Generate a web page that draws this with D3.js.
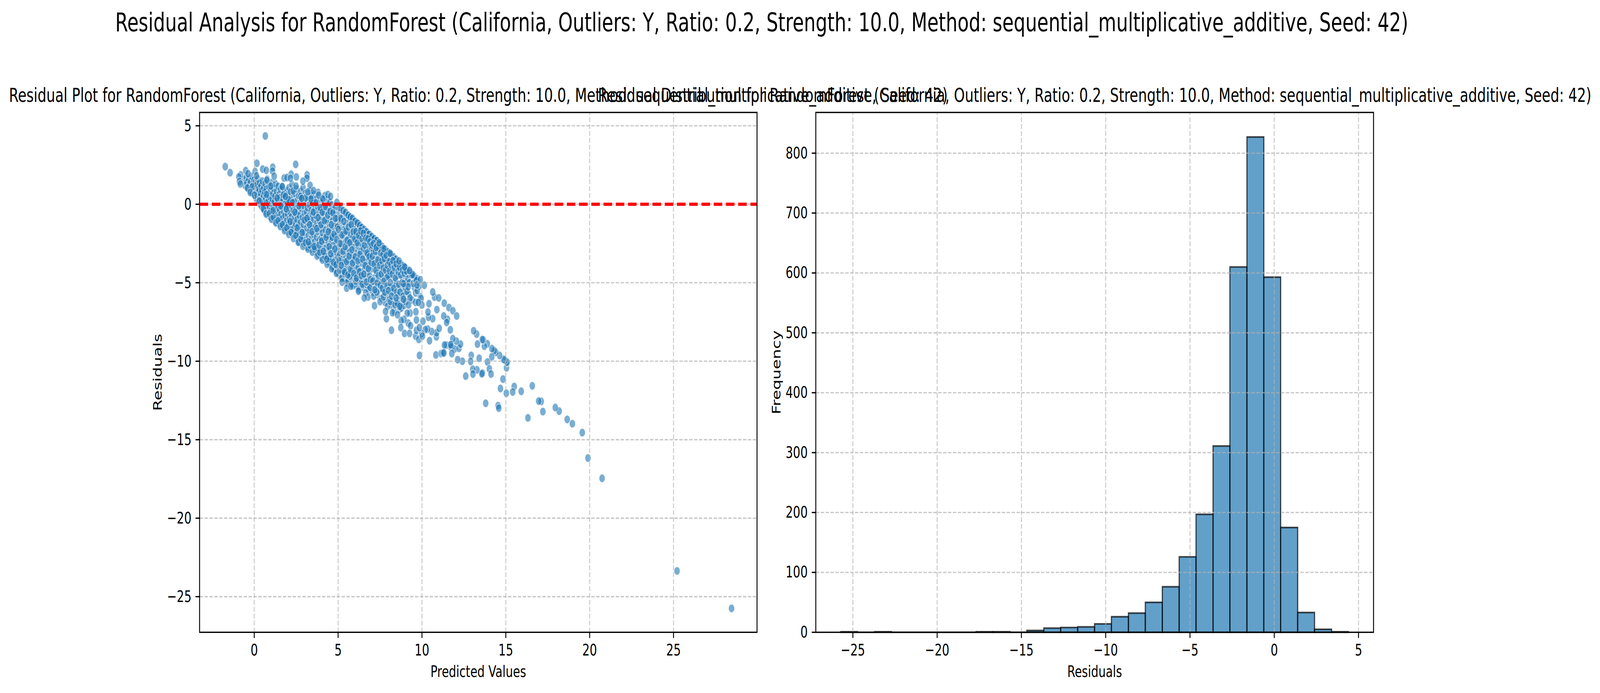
<!DOCTYPE html>
<html>
<head>
<meta charset="utf-8">
<script src="https://d3js.org/d3.v7.min.js"></script>
<style>
html, body { margin: 0; height: 100%; overflow: hidden; background: #fff; }
text { font-family: "DejaVu Sans", sans-serif; fill: #000; }
</style>
</head>
<body>
<div id="chart"></div>
<script>
var suptitle = "Residual Analysis for RandomForest (California, Outliers: Y, Ratio: 0.2, Strength: 10.0, Method: sequential_multiplicative_additive, Seed: 42)";
var scatterTitle = "Residual Plot for RandomForest (California, Outliers: Y, Ratio: 0.2, Strength: 10.0, Method: sequential_multiplicative_additive, Seed: 42)";
var histTitle = "Residual Distribution for RandomForest (California, Outliers: Y, Ratio: 0.2, Strength: 10.0, Method: sequential_multiplicative_additive, Seed: 42)";

var scatterXTicks = [0, 5, 10, 15, 20, 25];
var scatterYTicks = [5, 0, -5, -10, -15, -20, -25];
var histXTicks = [-25, -20, -15, -10, -5, 0, 5];
var histYTicks = [0, 100, 200, 300, 400, 500, 600, 700, 800];

// histogram, 30 bins
var binEdges = [-25.72,-24.72,-23.71,-22.71,-21.70,-20.70,-19.70,-18.69,-17.69,-16.68,-15.68,-14.68,-13.67,-12.67,-11.66,-10.66,-9.66,-8.65,-7.65,-6.64,-5.64,-4.64,-3.63,-2.63,-1.62,-0.62,0.38,1.39,2.39,3.40,4.40];
var binCounts = [1,0,1,0,0,0,0,0,1,1,0,3,7,8,9,14,26,32,50,76,126,197,311,610,827,593,175,33,5,1];

// [predicted, residual], isolated points first
var tailPoints = [[28.46,-25.75],[25.21,-23.36],[20.74,-17.46],[19.9,-16.17],[19.56,-14.55],[18.97,-13.98],[18.66,-13.71],[18.18,-13.18],[17.95,-12.95],[17.21,-13.21],[17.11,-12.56],[16.96,-12.54],[16.58,-11.57],[16.32,-13.61],[15.92,-11.92],[15.5,-11.61],[15.41,-11.96],[15.03,-12.04],[14.68,-11.74],[14.83,-11.14],[15.04,-10.42],[15.09,-10.09],[15.06,-10.05],[14.95,-9.94],[14.87,-9.88],[14.63,-9.63],[14.4,-9.43],[14.31,-9.33],[14.17,-9.2],[14.16,-9.72],[13.9,-8.89],[13.72,-9.04],[13.66,-8.64],[13.6,-8.62],[13.31,-8.91],[13.26,-8.27],[13.08,-8.06],[13.91,-10.05],[14.02,-10.49],[14.12,-10.82],[13.61,-10.75],[13.57,-10.8],[13.28,-10.55],[13.03,-10.51],[13.04,-10.82],[12.61,-10.95],[13.41,-9.81],[12.94,-9.63],[12.9,-10.01],[12.41,-10.0],[12.13,-9.9],[13.8,-12.68],[14.54,-12.83],[14.58,-12.99],[11.7,-8.93],[11.45,-8.97],[11.34,-8.97],[11.73,-9.1],[11.95,-9.22],[11.78,-9.51],[12.21,-9.18],[12.3,-8.91],[12.05,-8.72],[11.84,-8.56],[11.72,-8.95],[11.31,-9.47]];

var midPoints = [[8.18,-8.02],[9.85,-9.63],[10.83,-9.6],[11.14,-9.51],[11.25,-9.47],[10.45,-8.69],[10.86,-8.44],[10.87,-8.19],[11.03,-7.9],[10.58,-8.11],[10.34,-7.95],[10.2,-7.99],[11.69,-8.0],[11.52,-7.33],[11.3,-7.12],[11.47,-7.53],[10.89,-6.71],[10.64,-7.29],[10.39,-7.2],[10.42,-6.34],[10.36,-6.87],[10.75,-5.92],[11,-5.97],[10.64,-5.59],[10.14,-5.16],[9.9,-4.81],[11.33,-6.3],[11.61,-6.58],[11.85,-6.79],[12.07,-7.12],[9.95,-6.01],[9.62,-6.25],[10,-6.42],[9.64,-6.85],[9.29,-6.93],[9.12,-6.94],[9.67,-7.37],[10.06,-7.45],[9.18,-7.57],[9.32,-7.74],[8.93,-7.33],[8.76,-7.41],[8.74,-7.86],[8.96,-8.23],[9.26,-8.23],[9.62,-8.4],[9.81,-8.61],[9.67,-8.03],[9.98,-8.23],[10.03,-8.4],[9.84,-7.86],[7.88,-7.29],[7.83,-6.83],[8.24,-6.91],[8.54,-7.04],[7.17,-6.46],[6.78,-5.91],[6.56,-5.97],[6.21,-5.54],[5.51,-5.35],[5.24,-4.96],[5.76,-5.22],[9.45,-4.48],[9.26,-4.23],[8.96,-3.99],[8.63,-3.61],[8.1,-3.12],[7.72,-2.83],[7.27,-2.75],[7.44,-2.46],[8.68,-6.5],[8.9,-6.05],[8.46,-5.97],[9.29,-5.97],[9.2,-6.42],[9.78,-6.25],[9.7,-5.14],[9.18,-5.26],[8.9,-5.06]];

var topPoints = [[0.66,4.35],[-1.73,2.40],[-1.44,2.01],[0.16,2.61],[2.47,2.54],[1.10,2.36],[0.5,2.24],[0.72,2.16],[1.09,2.11],[-0.51,2.14],[-0.37,1.95],[-0.81,1.87],[-0.92,1.74],[0.05,2.09],[0.13,1.82],[1.19,1.78],[0.75,1.53],[2.2,1.91],[2.51,1.74],[3.15,1.87],[3.14,1.66],[2.9,1.47],[1.78,1.67],[1.95,1.7],[2.16,1.66],[-0.88,1.45],[-0.83,1.29],[-0.41,1.04],[-0.12,1.12],[0.98,1.16],[1.67,1.12],[3.33,1.2],[2.32,0.85],[3.54,0.87],[3.19,0.79],[2.49,1.16],[1.86,0.5],[4.39,0.62],[4.55,0.5],[3.84,0.58],[0.72,0.62],[-0.24,0.75],[0.01,0.58],[0.3,0.21],[3.38,0.33],[2.83,0.37],[4.09,0.33],[4.93,0.12]];

// dense band, estimated in strips of predicted value
var bandA = [[-0.62,1.55],[-0.55,1.2],[-0.48,1.72],[-0.44,1.38],[-0.38,1.02],[-0.33,1.6],[-0.3,1.25],[-0.26,0.88],[-0.22,1.44],[-0.18,1.05],[-0.15,1.78],[-0.11,0.72],[-0.08,1.3],[-0.05,0.95],[-0.02,1.55],[0.02,0.62],[0.03,1.18],[0.05,0.85],[0.07,1.42],[0.1,0.42],[0.12,1.02],[0.14,0.68],[0.17,1.25],[0.19,0.28],[0.21,1.62],[0.24,0.78],[0.26,0.12],[0.28,0.98],[0.31,1.35],[0.33,0.45],[0.36,0.02],[0.38,0.7],[0.4,1.15],[0.42,-0.12],[0.44,0.3],[0.46,0.88],[0.48,1.48],[0.52,-0.22],[0.54,0.55],[0.56,1.05],[0.58,0.18],[0.6,-0.4],[0.62,0.76],[0.64,1.32],[0.66,-0.08],[0.68,0.4],[0.71,0.95],[0.73,-0.55],[0.75,0.12],[0.77,1.6],[0.79,-0.3],[0.81,0.62],[0.83,-0.68],[0.85,0.25],[0.87,1.12],[0.9,-0.15],[0.92,0.48],[0.94,-0.78],[0.96,0.85],[0.98,-0.42]];

var bandB = [[1.01,0.05],[1.03,1.38],[1.05,-0.62],[1.07,0.34],[1.09,-0.9],[1.11,0.7],[1.13,-0.25],[1.15,1.02],[1.17,-0.75],[1.19,0.15],[1.21,-1.05],[1.23,0.52],[1.25,-0.45],[1.27,1.3],[1.29,-0.95],[1.31,-0.08],[1.33,0.82],[1.35,-1.15],[1.37,-0.58],[1.39,0.28],[1.41,-0.22],[1.43,1.15],[1.45,-0.82],[1.47,0.6],[1.49,-1.22],[1.51,-0.35],[1.53,0.42],[1.55,-1.0],[1.57,0.95],[1.59,-0.65],[1.61,0.1],[1.63,-1.35],[1.65,-0.15],[1.67,1.12],[1.69,-0.88],[1.71,0.35],[1.73,-1.45],[1.75,-0.48],[1.77,0.72],[1.79,-1.2],[1.81,-0.02],[1.83,-0.72],[1.85,0.5],[1.87,-1.58],[1.89,-0.32],[1.91,0.85],[1.93,-1.05],[1.95,0.18],[1.97,-0.6],[1.99,-1.72]];

var bandC = [[2.01,0.62],[2.03,-1.3],[2.05,-0.22],[2.07,1.05],[2.09,-0.95],[2.11,0.28],[2.13,-1.68],[2.15,-0.52],[2.17,0.8],[2.19,-1.42],[2.21,-0.08],[2.23,-0.78],[2.25,1.25],[2.27,-1.85],[2.29,-1.12],[2.31,0.42],[2.33,-0.38],[2.35,-1.55],[2.37,0.12],[2.39,-0.88],[2.41,0.7],[2.43,-2.02],[2.45,-1.25],[2.47,-0.15],[2.49,-0.62],[2.51,0.98],[2.53,-1.75],[2.55,-0.98],[2.57,0.25],[2.59,-2.15],[2.61,-0.42],[2.63,-1.38],[2.65,0.55],[2.67,-2.4],[2.69,-0.72],[2.71,-1.9],[2.73,0.05],[2.75,-1.15],[2.77,0.82],[2.79,-2.28],[2.81,-0.28],[2.83,-1.6],[2.85,0.38],[2.87,-0.85],[2.89,-2.05],[2.91,1.05],[2.93,-1.28],[2.95,-0.1],[2.97,-2.5],[2.99,-0.58]];

var bandD = [[3.01,-1.82],[3.03,0.68],[3.05,-1.02],[3.07,-2.3],[3.09,0.18],[3.11,-0.5],[3.13,-1.5],[3.15,-2.72],[3.17,-0.22],[3.19,-1.15],[3.21,0.48],[3.23,-2.0],[3.25,-0.78],[3.27,-2.55],[3.29,-0.05],[3.31,-1.68],[3.33,0.85],[3.35,-1.0],[3.37,-2.85],[3.39,-0.4],[3.41,-2.2],[3.43,0.28],[3.45,-1.35],[3.47,-0.68],[3.49,-2.65],[3.51,0.05],[3.53,-1.92],[3.55,-0.95],[3.57,0.62],[3.59,-2.4],[3.61,-0.3],[3.63,-1.48],[3.65,-3.0],[3.67,-0.72],[3.69,0.32],[3.71,-2.1],[3.73,-1.2],[3.75,-2.78],[3.77,-0.18],[3.79,-1.72],[3.81,0.75],[3.83,-3.2],[3.85,-0.55],[3.87,-2.32],[3.89,-1.05],[3.91,0.15],[3.93,-2.95],[3.95,-1.55],[3.97,-0.38],[3.99,-2.15]];

var bandE = [[4.01,-3.4],[4.03,-0.85],[4.05,0.4],[4.07,-1.82],[4.09,-2.62],[4.11,-0.12],[4.13,-1.28],[4.15,-3.15],[4.17,-0.62],[4.19,-2.25],[4.21,0.55],[4.23,-1.65],[4.25,-3.58],[4.27,-0.98],[4.29,-2.8],[4.31,-0.3],[4.33,-1.95],[4.35,0.3],[4.37,-3.3],[4.39,-1.12],[4.41,-2.42],[4.43,-0.5],[4.45,-3.7],[4.47,-1.5],[4.49,-2.05],[4.51,0.12],[4.53,-2.9],[4.55,-0.78],[4.57,-3.45],[4.59,-1.72],[4.61,-0.05],[4.63,-2.3],[4.65,-3.95],[4.67,-1.05],[4.69,-2.65],[4.71,-0.35],[4.73,-3.25],[4.75,-1.42],[4.77,-4.15],[4.79,-2.05],[4.81,-0.62],[4.83,-3.6],[4.85,-0.15],[4.87,-2.48],[4.89,-1.2],[4.91,-3.05],[4.93,-4.3],[4.95,-0.9],[4.97,-1.88],[4.99,-3.4]];

var bandF = [[5.01,-0.2],[5.03,-2.75],[5.05,-4.45],[5.07,-1.3],[5.09,-3.2],[5.11,-0.55],[5.13,-2.15],[5.15,-3.85],[5.17,-1.0],[5.19,-4.6],[5.21,-2.55],[5.23,-0.38],[5.25,-3.5],[5.27,-1.65],[5.29,-4.2],[5.31,-0.75],[5.33,-2.95],[5.35,-1.95],[5.37,-3.7],[5.39,-0.58],[5.41,-4.75],[5.43,-1.38],[5.45,-2.35],[5.47,-3.3],[5.49,-0.85],[5.51,-4.05],[5.53,-1.75],[5.55,-2.8],[5.57,-0.68],[5.59,-3.55],[5.61,-4.9],[5.63,-1.15],[5.65,-2.2],[5.67,-4.4],[5.69,-3.05],[5.71,-0.8],[5.73,-1.9],[5.75,-3.8],[5.77,-2.55],[5.79,-5.05],[5.81,-1.25],[5.83,-4.2],[5.85,-3.3],[5.87,-0.95],[5.89,-2.05],[5.91,-4.65],[5.93,-1.6],[5.95,-3.55],[5.97,-2.75],[5.99,-1.05]];

var bandG = [[6.01,-5.1],[6.03,-1.45],[6.05,-3.95],[6.07,-2.3],[6.09,-4.5],[6.11,-1.15],[6.13,-3.1],[6.15,-5.25],[6.17,-1.85],[6.19,-4.05],[6.21,-2.65],[6.23,-1.25],[6.25,-3.5],[6.27,-4.85],[6.29,-2.1],[6.31,-1.4],[6.33,-4.3],[6.35,-3.0],[6.37,-5.0],[6.39,-1.7],[6.41,-2.5],[6.43,-3.75],[6.45,-1.5],[6.47,-4.55],[6.49,-2.85],[6.52,-5.3],[6.54,-1.68],[6.56,-3.35],[6.58,-4.1],[6.6,-2.2],[6.62,-1.75],[6.64,-4.75],[6.66,-2.95],[6.68,-3.7],[6.7,-1.82],[6.72,-5.15],[6.74,-2.45],[6.76,-4.3],[6.78,-3.2],[6.8,-1.9],[6.82,-5.45],[6.84,-2.7],[6.86,-3.9],[6.88,-4.55],[6.9,-2.1],[6.92,-3.45],[6.94,-1.98],[6.96,-5.0],[6.98,-2.9]];

var bandH = [[7.02,-2.1],[7.05,-4.1],[7.08,-5.6],[7.1,-3.0],[7.13,-2.2],[7.16,-4.7],[7.18,-3.55],[7.21,-5.2],[7.23,-2.4],[7.26,-3.9],[7.28,-2.3],[7.31,-4.4],[7.34,-5.75],[7.36,-3.2],[7.39,-2.55],[7.41,-4.95],[7.44,-3.65],[7.46,-2.5],[7.49,-5.4],[7.52,-4.2],[7.55,-2.75],[7.58,-3.35],[7.6,-6.0],[7.63,-4.75],[7.66,-2.8],[7.68,-3.8],[7.71,-5.5],[7.74,-3.05],[7.77,-4.4],[7.8,-6.25],[7.82,-3.0],[7.85,-5.0],[7.88,-3.6],[7.9,-4.65],[7.93,-3.2],[7.96,-5.75],[7.98,-4.1],[8.02,-3.15],[8.05,-6.1],[8.08,-4.6],[8.1,-3.5],[8.14,-5.3],[8.18,-3.25],[8.21,-6.45],[8.25,-4.2],[8.28,-5.6],[8.32,-3.5],[8.36,-4.9],[8.4,-3.55],[8.43,-6.2],[8.47,-5.15],[8.5,-3.9],[8.54,-4.55],[8.58,-3.75],[8.62,-5.85],[8.66,-6.7],[8.7,-4.1],[8.74,-5.3],[8.78,-3.9],[8.82,-6.25],[8.85,-4.7],[8.89,-4.15],[8.93,-5.6],[8.97,-4.0],[9.05,-5.0],[9.12,-4.4],[9.2,-5.7],[9.3,-4.35],[9.4,-6.1],[9.5,-4.6],[9.55,-5.3],[9.62,-5.65],[9.75,-4.9],[9.85,-5.2],[9.9,-5.9]];

var upperEdge = [[5.1,-0.22],[5.3,-0.4],[5.45,-0.52],[5.6,-0.7],[5.72,-0.82],[5.85,-0.9],[6.0,-1.1],[6.15,-1.2],[6.28,-1.36],[6.4,-1.48],[6.55,-1.6],[6.7,-1.75],[6.85,-1.92],[7.0,-2.06],[7.15,-2.2],[7.3,-2.32],[7.5,-2.55],[7.62,-2.68],[7.8,-2.85],[7.95,-3.02],[8.15,-3.2],[8.3,-3.35],[8.45,-3.5],[8.75,-3.8],[8.85,-3.92],[9.0,-4.05],[9.15,-4.18],[9.35,-4.38],[9.55,-4.6],[9.7,-4.75]];

var lowerEdge = [[0.55,-0.3],[0.7,-0.62],[0.9,-0.6],[1.02,-0.95],[1.14,-0.82],[1.28,-1.18],[1.42,-1.05],[1.55,-1.42],[1.68,-1.3],[1.8,-1.68],[1.94,-1.5],[2.06,-1.92],[2.2,-1.8],[2.34,-2.18],[2.48,-1.98],[2.62,-2.42],[2.78,-2.2],[2.9,-2.68],[3.05,-2.45],[3.2,-2.85],[3.32,-2.6],[3.46,-3.05],[3.6,-2.85],[3.74,-3.3],[3.9,-3.05],[4.06,-3.55],[4.2,-3.3],[4.34,-3.82],[4.5,-3.5],[4.62,-4.1],[4.8,-3.8],[4.9,-4.4],[5.08,-4.2],[5.22,-4.72],[5.38,-4.4],[5.52,-5.0],[5.7,-4.6],[5.88,-5.2],[6.05,-4.9],[6.25,-5.45],[6.45,-5.1],[6.65,-5.65],[6.9,-5.3],[7.12,-5.85],[7.3,-5.6],[7.5,-6.2],[7.7,-5.9],[7.95,-6.5],[8.12,-6.2],[8.35,-6.85],[8.55,-6.4]];

var innerLow = [[1.12,-0.4],[1.36,0.4],[1.58,-0.1],[1.74,0.6],[1.92,-0.3],[2.04,0.3],[2.14,-1.1],[2.28,0.1],[2.42,-0.5],[2.56,-1.5],[2.66,-0.1],[2.76,0.5],[2.86,-1.8],[2.98,-1.0],[3.06,0.4],[3.14,-0.9],[3.22,-2.4],[3.3,-1.3],[3.4,0.55],[3.44,-1.75],[3.52,-0.5],[3.58,-2.7],[3.66,0.1],[3.72,-1.55],[3.8,-0.85],[3.86,-2.6],[3.92,-0.2],[3.98,-1.3],[4.02,-2.35],[4.06,-0.5],[4.12,-3.0],[4.18,-1.05],[4.24,-0.15],[4.28,-2.1],[4.32,-3.5],[4.38,-0.7],[4.42,-1.75],[4.46,-2.7],[4.52,-0.45],[4.56,-3.15],[4.6,-1.3],[4.64,-2.1],[4.68,-0.55],[4.72,-3.7],[4.76,-1.9],[4.8,-2.85],[4.84,-0.9],[4.88,-3.85],[4.92,-2.25],[4.96,-1.45]];

var innerHigh = [[5.02,-1.6],[5.06,-3.6],[5.12,-2.5],[5.16,-0.9],[5.2,-3.9],[5.24,-1.95],[5.28,-3.0],[5.34,-1.1],[5.38,-4.3],[5.42,-2.7],[5.46,-1.7],[5.5,-3.65],[5.54,-2.3],[5.58,-4.5],[5.62,-1.45],[5.66,-3.3],[5.7,-2.45],[5.74,-4.15],[5.78,-1.3],[5.82,-2.9],[5.86,-3.75],[5.9,-1.75],[5.94,-4.4],[5.98,-2.2],[6.02,-3.35],[6.06,-1.75],[6.1,-4.7],[6.14,-2.45],[6.18,-3.6],[6.22,-2.0],[6.26,-4.3],[6.3,-3.2],[6.34,-1.7],[6.38,-4.55],[6.42,-2.2],[6.46,-3.5],[6.5,-1.85],[6.53,-4.45],[6.57,-2.6],[6.61,-3.9],[6.65,-2.15],[6.69,-4.95],[6.73,-3.1],[6.77,-2.2],[6.81,-4.1],[6.85,-3.35],[6.89,-2.4],[6.93,-4.8],[6.97,-3.7],[7.01,-2.6],[7.04,-3.3],[7.07,-4.9],[7.11,-2.5],[7.15,-3.8],[7.19,-5.45],[7.22,-3.0],[7.25,-4.2],[7.29,-2.65],[7.33,-5.0],[7.37,-3.55],[7.4,-4.55],[7.43,-2.8],[7.47,-3.9],[7.51,-5.15],[7.54,-3.1],[7.57,-4.45],[7.61,-3.6],[7.64,-5.35],[7.67,-3.2],[7.7,-4.05],[7.73,-4.9],[7.76,-3.45],[7.79,-5.6],[7.83,-4.2],[7.87,-3.25],[7.91,-5.2],[7.94,-3.9],[7.97,-4.6],[8.01,-5.5],[8.04,-3.65],[8.07,-4.25],[8.11,-5.0],[8.15,-3.85],[8.19,-5.85],[8.23,-4.45],[8.27,-3.6],[8.31,-5.35],[8.35,-4.05],[8.39,-6.4],[8.42,-4.7],[8.46,-3.8],[8.49,-5.6],[8.53,-6.3],[8.57,-4.3],[8.61,-5.1],[8.65,-4.0],[8.69,-5.6],[8.73,-4.5],[8.77,-6.6],[8.81,-5.0],[8.84,-4.2],[8.88,-5.85],[8.92,-6.45],[8.95,-4.4],[8.99,-5.25],[9.03,-6.2],[9.07,-4.25],[9.11,-5.55],[9.16,-4.75],[9.25,-5.0],[9.38,-4.5],[9.48,-5.05],[9.66,-4.85],[9.72,-5.5]];

var scatterPoints = bandA.concat(bandB, bandC, bandD, bandE, bandF, bandG, bandH, upperEdge, lowerEdge, innerLow, innerHigh, midPoints, topPoints, tailPoints);

var svgWidth = 5772;
var svgHeight = 1775;
var axTop = 288;
var axBottom = 1619.5;
var blue = "#1f77b4";
var lineWidth = 3.33;
var tickLabelSize = 41.67;

// the browser window can come out narrower than asked for, so the drawing
// keeps its own coordinates and is stretched onto whatever window there is
var svg = d3.select("#chart").append("svg")
    .attr("viewBox", "0 0 " + svgWidth + " " + svgHeight)
    .attr("preserveAspectRatio", "none")
    .style("width", "100vw")
    .style("height", "100vh")
    .style("display", "block");

var xScatter = d3.scaleLinear().domain([-3.26, 29.98]).range([720, 2731]);
var yScatter = d3.scaleLinear().domain([-27.27, 5.85]).range([axBottom, axTop]);
var xHist = d3.scaleLinear().domain([-27.2, 5.89]).range([2943, 4955]);
var yHist = d3.scaleLinear().domain([0, 868]).range([axBottom, axTop]);

svg.append("text")
    .attr("x", 2748)
    .attr("y", 80)
    .attr("text-anchor", "middle")
    .style("font-size", "66.67px")
    .text(suptitle);

// points go first, matplotlib puts the grid above collections and patches
svg.append("g").selectAll("circle")
    .data(scatterPoints)
    .enter()
    .append("circle")
    .attr("cx", function(d) { return xScatter(d[0]); })
    .attr("cy", function(d) { return yScatter(d[1]); })
    .attr("r", 10.8)
    .attr("fill", blue)
    .attr("fill-opacity", 0.6)
    .attr("stroke", "#fff")
    .attr("stroke-opacity", 0.6)
    .attr("stroke-width", 2);

// paths and not rects so empty bins still draw their edge
svg.append("g").selectAll("path")
    .data(binCounts)
    .enter()
    .append("path")
    .attr("d", function(d, i) {
        var x0 = xHist(binEdges[i]);
        var x1 = xHist(binEdges[i + 1]);
        return "M" + x0 + "," + yHist(0) + "V" + yHist(d) + "H" + x1 + "V" + yHist(0) + "Z";
    })
    .attr("fill", blue)
    .attr("fill-opacity", 0.7)
    .attr("stroke", "#000")
    .attr("stroke-opacity", 0.7)
    .attr("stroke-width", 4.17);

function drawPanel(x, y, xTicks, yTicks, title, xLabel, yLabel, yLabelX) {
    var g = svg.append("g");
    var left = x.range()[0];
    var right = x.range()[1];

    g.selectAll(".vgrid")
        .data(xTicks)
        .enter()
        .append("line")
        .attr("class", "vgrid")
        .attr("x1", function(d) { return x(d); })
        .attr("x2", function(d) { return x(d); })
        .attr("y1", axBottom)
        .attr("y2", axTop);

    g.selectAll(".hgrid")
        .data(yTicks)
        .enter()
        .append("line")
        .attr("class", "hgrid")
        .attr("x1", left)
        .attr("x2", right)
        .attr("y1", function(d) { return y(d); })
        .attr("y2", function(d) { return y(d); });

    g.selectAll("line")
        .attr("stroke", "#b0b0b0")
        .attr("stroke-opacity", 0.7)
        .attr("stroke-width", lineWidth)
        .attr("stroke-dasharray", "12.33,5.33");

    if (yLabel == "Residuals") {
        svg.append("line")
            .attr("x1", left)
            .attr("x2", right)
            .attr("y1", y(0))
            .attr("y2", y(0))
            .attr("stroke", "#ff0000")
            .attr("stroke-width", 8.33)
            .attr("stroke-dasharray", "30.83,13.33");
    }

    var xAxis = d3.axisBottom(x).tickValues(xTicks).tickSize(14.6).tickPadding(15).offset(0)
        .tickFormat(function(d) { return String(d).replace("-", "\u2212"); });
    var yAxis = d3.axisLeft(y).tickValues(yTicks).tickSize(14.6).tickPadding(14.6).offset(0)
        .tickFormat(function(d) { return String(d).replace("-", "\u2212"); });

    var axes = [
        svg.append("g").attr("transform", "translate(0," + axBottom + ")").call(xAxis),
        svg.append("g").attr("transform", "translate(" + left + ",0)").call(yAxis)
    ];
    axes.forEach(function(axis) {
        axis.select(".domain").remove();
        axis.selectAll("line").attr("stroke", "#000").attr("stroke-width", lineWidth);
        axis.selectAll("text")
            .style("font-size", tickLabelSize + "px")
            .style("font-family", '"DejaVu Sans", sans-serif');
    });

    svg.append("rect")
        .attr("x", left)
        .attr("y", axTop)
        .attr("width", right - left)
        .attr("height", axBottom - axTop)
        .attr("fill", "none")
        .attr("stroke", "#000")
        .attr("stroke-width", lineWidth);

    svg.append("text")
        .attr("x", (left + right) / 2)
        .attr("y", 261)
        .attr("text-anchor", "middle")
        .style("font-size", "50px")
        .text(title);

    svg.append("text")
        .attr("x", (left + right) / 2)
        .attr("y", 1734)
        .attr("text-anchor", "middle")
        .style("font-size", tickLabelSize + "px")
        .text(xLabel);

    svg.append("text")
        .attr("transform", "translate(" + yLabelX + "," + ((axTop + axBottom) / 2) + ")rotate(-90)")
        .attr("text-anchor", "middle")
        .style("font-size", tickLabelSize + "px")
        .text(yLabel);
}

drawPanel(xScatter, yScatter, scatterXTicks, scatterYTicks, scatterTitle, "Predicted Values", "Residuals", 583);
drawPanel(xHist, yHist, histXTicks, histYTicks, histTitle, "Residuals", "Frequency", 2816);
</script>
</body>
</html>
